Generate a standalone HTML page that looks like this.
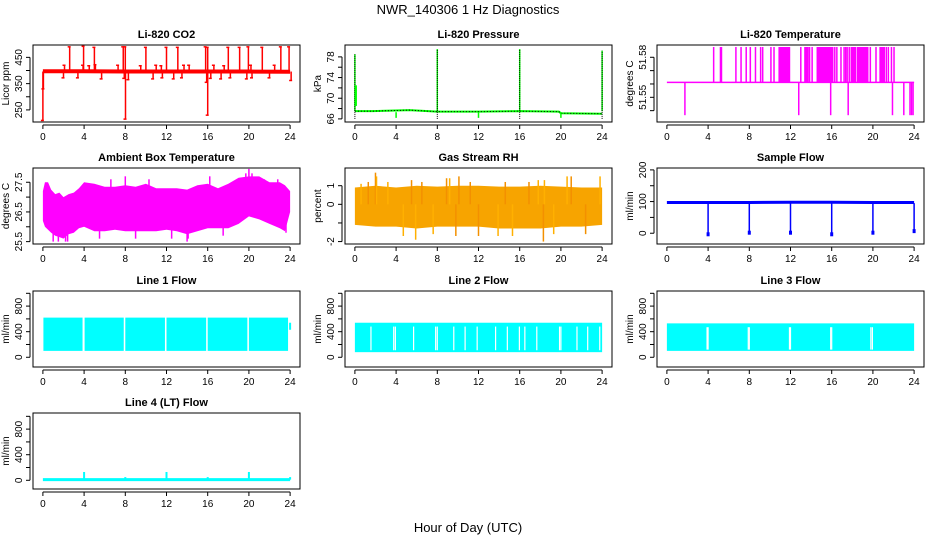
<!DOCTYPE html>
<html><head><meta charset="utf-8"><style>
body{margin:0;background:#fff}
svg{display:block;font-family:"Liberation Sans",Arial,sans-serif}
</style></head><body>
<svg id="chart" width="936" height="540" viewBox="0 0 936 540" xmlns="http://www.w3.org/2000/svg">
<rect width="936" height="540" fill="#fff"/>
<text x="468" y="14" text-anchor="middle" font-size="13">NWR_140306  1 Hz Diagnostics</text>
<text x="468" y="532" text-anchor="middle" font-size="13">Hour of Day (UTC)</text>
</svg>
<script>
// ---- data ----
const xTicks=[0,4,8,12,16,20,24];
const co2Base=[397,397,396,396,396,396,395];
const co2SpikeHours=[2.6,3.95,5.0,7.8,8.0,10.0,12.0,13.1,15.8,16.0,18.0,19.1,19.95,21.3,23.1,23.9,2.1,3.9,4.5,5.1,7.3,9.5,11.0,11.5,13.7,14.2,16.6,17.6,20.2,22.5,2.0,3.4,5.7,7.9,8.3,10.7,11.6,12.7,13.5,16.3,17.3,18.2,19.8,20.3,22.0,24.1,0.0,0.05,8.02,16.0,15.9];
const co2SpikeVals=[490,492,488,490,490,488,488,488,490,488,488,488,490,488,490,490,420,420,418,422,420,418,420,418,420,420,420,418,420,420,372,372,368,370,365,368,372,368,372,370,368,372,368,372,372,362,210,330,215,230,355];
const presHours=[0,1.7,5.3,8,12,16,19.8,20,24];
const presVals=[67.5,67.5,67.7,67.4,67.4,67.5,67.4,67.1,67.0];
const presSpikeHours=[0,8,16,24];
const presSpikeVals=[78.5,79.5,79.5,79.2];
const presDipHours=[4,12,20];
const presDipVals=[66.2,66.2,66.2];
const tempBase=51.5612;
const tempHigh=51.5877;
const tempLow=51.5366;
const tempUpHours=[4.54,5.2,5.3,6.7,7.2,7.7,8.1,8.6,9.1,9.3,10.1,10.4,10.9,11.0,11.1,11.2,11.3,11.4,11.5,11.6,11.7,11.8,11.9,13.0,13.4,13.5,13.6,13.7,13.85,14.1,14.6,14.7,14.8,14.9,15.0,15.1,15.2,15.3,15.4,15.5,15.6,15.7,15.8,15.9,16.0,16.1,16.3,16.5,16.9,17.2,17.35,17.5,17.7,17.9,18.0,18.1,18.2,18.3,18.5,18.6,18.7,18.8,18.9,19.0,19.1,19.2,19.3,19.4,19.5,19.75,20.3,20.7,20.8,20.9,21.0,21.1,21.3,21.5,21.8,22.05];
const tempDownHours=[1.75,12.8,15.9,17.6,21.9,23.0,23.6,23.75,23.9];
const ambHours=[0,0.2,0.5,0.8,1.2,1.6,2,2.5,3,3.5,4,5,6,7,8,9,10,11,12,13,14,15,16,17,18,19,20,20.5,21,22,23,23.5,24];
const ambHi=[27.2,27.5,27.5,27.25,27.1,27.15,27.0,27.1,27.15,27.3,27.5,27.45,27.35,27.35,27.4,27.35,27.45,27.3,27.3,27.3,27.25,27.4,27.45,27.3,27.45,27.65,27.7,27.7,27.7,27.5,27.5,27.4,27.2];
const ambLo=[26.2,26.0,25.9,25.8,25.7,25.65,25.6,25.75,25.8,25.95,26.0,25.85,25.85,25.9,25.85,25.85,25.85,25.85,25.9,25.85,25.75,25.85,25.95,25.95,25.95,26.1,26.35,26.3,26.25,26.1,25.95,25.85,26.5];
const ambSpikeHours=[1.0,1.5,2.2,2.4,5.5,8.0,9.0,12.5,14.0,14.1,16.2,19.7,20.0,20.3,21.5,23.6,6.6,10.3,17.5,22.8];
const ambSpikeVals=[25.5,25.5,25.5,25.5,25.6,27.7,25.6,25.6,25.5,25.6,27.7,27.8,27.95,27.8,27.6,25.8,27.6,27.6,25.7,27.6];
const rhHours=[0,2,4,6,8,10,12,14,16,18,20,22,24];
const rhHi=[0.9,1.0,0.9,1.0,0.95,1.0,1.0,0.95,0.95,1.0,0.95,0.9,0.9];
const rhLo=[-1.1,-1.2,-1.2,-1.3,-1.2,-1.2,-1.2,-1.3,-1.3,-1.3,-1.2,-1.2,-1.1];
const rhSpikeHours=[2.0,2.1,5.5,5.9,8.9,9.2,10.1,18.4,18.3,20.6,21.0,23.8,1.3,4.7,9.8,15.3,12.0,3.2,6.5,7.6,11.2,13.9,16.9,19.3,22.4,0.6,14.6,17.8];
const rhSpikeVals=[1.7,1.5,1.3,-1.9,1.4,1.4,1.5,1.3,-2.0,1.5,1.5,1.5,1.2,-1.7,-1.7,-1.7,-1.7,1.2,1.2,-1.6,1.2,-1.7,1.2,-1.6,-1.6,1.1,1.2,1.3];
const sfBase=[97,97,97,98,98,97,97];
const sfDipHours=[4,8,12,16,20,24];
const sfDipVals=[-5,0,0,-5,0,5];
const l1Starts=[0.05,4.05,8.0,12.0,16.0,20.0];
const l1Ends=[3.85,7.85,11.85,15.85,19.85,23.8];
const l1Lo=100, l1Hi=620;
const l2Gaps=[1.56,3.77,3.93,5.7,7.84,8.0,9.6,10.7,11.87,13.66,14.8,15.97,16.5,17.66,19.87,20.0,21.56,22.6,23.77];
const l2Lo=80, l2Hi=540;
const l3Gaps=[3.9,4.0,7.9,8.0,11.9,12.0,15.9,16.0,19.8,19.95];
const l3Lo=100, l3Hi=530;
const l4SpikeHours=[4,8,12,16,20,24];
const l4SpikeVals=[130,50,130,50,130,50];
const l4Base=10;

// ---- layout ----
const NS="http://www.w3.org/2000/svg";
const svg=document.getElementById('chart');
const cols=[[33,300],[345,612],[657,924]];
const rows=[[45,122],[168,244],[291,367],[413,489]];
function el(tag,attrs,parent){const e=document.createElementNS(NS,tag);for(const k in attrs)e.setAttribute(k,attrs[k]);(parent||svg).appendChild(e);return e;}
function panel(c,r,title,ylab,ydom,yticks,ylabels,name){
  const [x0,x1]=cols[c],[y0,y1]=rows[r];
  const g=el('g',{});
  
  
  const xs=h=>x0+(h+0.96)/25.92*(x1-x0);
  const ys=v=>y1-(v-ydom[0])/(ydom[1]-ydom[0])*(y1-y0);
  const t=el('text',{x:(x0+x1)/2,y:y0-7,'text-anchor':'middle','font-size':'11','font-weight':'bold'},g);
  t.textContent=title;
  
  
  const plot=el('g',{},g);
  
  
  const box=el('rect',{x:x0,y:y0,width:x1-x0,height:y1-y0,fill:'none',stroke:'#000','stroke-width':1},g);
  
  
  const xa=el('g',{},g);
  
  
  el('line',{x1:xs(0),x2:xs(24),y1:y1+3,y2:y1+3,stroke:'#000'},xa);
  xTicks.forEach(h=>{el('line',{x1:xs(h),x2:xs(h),y1:y1+3,y2:y1+7,stroke:'#000'},xa);
    const tl=el('text',{x:xs(h),y:y1+18,'text-anchor':'middle','font-size':'10'},xa);tl.textContent=h;});
  const ya=el('g',{},g);
  
  
  el('line',{x1:x0-3,x2:x0-3,y1:ys(yticks[0]),y2:ys(yticks[yticks.length-1]),stroke:'#000'},ya);
  yticks.forEach(v=>el('line',{x1:x0-3,x2:x0-7,y1:ys(v),y2:ys(v),stroke:'#000'},ya));
  ylabels.forEach(v=>{const tl=el('text',{x:x0-11,y:ys(v),'text-anchor':'middle','font-size':'10',transform:`rotate(-90 ${x0-11} ${ys(v)})`},ya);tl.textContent=v;});
  const yt=el('text',{x:x0-24,y:(y0+y1)/2,'text-anchor':'middle','font-size':'10',transform:`rotate(-90 ${x0-24} ${(y0+y1)/2})`},g);
  yt.textContent=ylab;
  
  
  return {xs,ys,plot};
}
function vline(p,h,a,b,color,w,extra){return el('line',Object.assign({x1:p.xs(h),x2:p.xs(h),y1:p.ys(a),y2:p.ys(b),stroke:color,'stroke-width':w||1},extra||{}),p.plot);}
function band(p,hours,hi,lo,color){
  el('polygon',{points:hours.map((h,i)=>p.xs(h)+','+p.ys(hi[i])).concat(hours.slice().reverse().map((h,j)=>p.xs(h)+','+p.ys(lo[hours.length-1-j]))).join(' '),fill:color},p.plot);
}

// CO2
let p=panel(0,0,'Li-820 CO2','Licor ppm',[204,497],[250,300,350,400,450],[250,350,450],'co2');
co2SpikeHours.forEach((h,i)=>{vline(p,h,396,co2SpikeVals[i],'#f00',1.5);
  el('line',{x1:p.xs(h)-2,x2:p.xs(h)+1,y1:p.ys(co2SpikeVals[i]),y2:p.ys(co2SpikeVals[i]),stroke:'#f00','stroke-width':1.5},p.plot);});
el('polyline',{points:co2Base.map((v,i)=>p.xs(xTicks[i])+','+p.ys(v)).join(' '),fill:'none',stroke:'#f00','stroke-width':4},p.plot);

// Pressure
p=panel(1,0,'Li-820 Pressure','kPa',[65.4,80.3],[66,68,70,72,74,76,78],[66,70,74,78],'pressure');
el('polyline',{points:presHours.map((h,i)=>p.xs(h)+','+p.ys(presVals[i])).join(' '),fill:'none',stroke:'#0f0','stroke-width':2},p.plot);
el('polyline',{points:presHours.map((h,i)=>p.xs(h)+','+p.ys(presVals[i])).join(' '),fill:'none',stroke:'#000','stroke-width':1,'stroke-dasharray':'1,2'},p.plot);
presSpikeHours.forEach((h,i)=>{vline(p,h,presVals[0],presSpikeVals[i],'#0f0',1.5);vline(p,h,66,presSpikeVals[i],'#000',1,{'stroke-dasharray':'1,1'});});
vline(p,0.1,68.5,72.5,'#0f0',2);
presDipHours.forEach((h,i)=>vline(p,h,67.3,presDipVals[i],'#0f0',1.5));

// Temperature
p=panel(2,0,'Li-820 Temperature','degrees C',[51.5315,51.5892],[51.54,51.55,51.56,51.57,51.58],[51.55,51.58],'li820-temp');
tempUpHours.forEach(h=>vline(p,h,tempBase,tempHigh,'#f0f',1.5));
tempDownHours.forEach(h=>vline(p,h,tempBase,tempLow,'#f0f',1.5));
el('line',{x1:p.xs(0),x2:p.xs(24),y1:p.ys(tempBase),y2:p.ys(tempBase),stroke:'#f0f','stroke-width':1.5},p.plot);

// Ambient
p=panel(0,1,'Ambient Box Temperature','degrees C',[25.42,27.98],[25.5,26,26.5,27,27.5],[25.5,26.5,27.5],'ambient-temp');
band(p,ambHours,ambHi,ambLo,'#f0f');
ambSpikeHours.forEach((h,i)=>vline(p,h,26.6,ambSpikeVals[i],'#f0f',1.5));

// RH
p=panel(1,1,'Gas Stream RH','percent',[-2.13,1.95],[-2,-1,0,1],[-2,0,1],'rh');
band(p,rhHours,rhHi,rhLo,'#f7a400');
rhSpikeHours.forEach((h,i)=>vline(p,h,0,rhSpikeVals[i],i%2?'#ffb000':'#f39000',1.5));

// Sample flow
p=panel(2,1,'Sample Flow','ml/min',[-34,206],[0,50,100,150,200],[0,100,200],'sample-flow');
el('polyline',{points:sfBase.map((v,i)=>p.xs(xTicks[i])+','+p.ys(v)).join(' '),fill:'none',stroke:'#00f','stroke-width':3},p.plot);
sfDipHours.forEach((h,i)=>{vline(p,h,95,sfDipVals[i],'#00f',1.5);el('rect',{x:p.xs(h)-1.5,y:p.ys(sfDipVals[i]+8),width:3,height:4,fill:'#00f'},p.plot);});

// Line 1
p=panel(0,2,'Line 1 Flow','ml/min',[-152,1036],[0,200,400,600,800,1000],[0,400,800],'line1-flow');
l1Starts.forEach((s,i)=>el('rect',{x:p.xs(s),y:p.ys(l1Hi),width:p.xs(l1Ends[i])-p.xs(s),height:p.ys(l1Lo)-p.ys(l1Hi),fill:'#0ff'},p.plot));
vline(p,24,430,540,'#0ff',2);

// Line 2
p=panel(1,2,'Line 2 Flow','ml/min',[-152,1036],[0,200,400,600,800,1000],[0,400,800],'line2-flow');
el('rect',{x:p.xs(0),y:p.ys(l2Hi),width:p.xs(24)-p.xs(0),height:p.ys(l2Lo)-p.ys(l2Hi),fill:'#0ff'},p.plot);
l2Gaps.forEach(h=>vline(p,h,l2Lo+30,l2Hi-60,'#fff',1.2));

// Line 3
p=panel(2,2,'Line 3 Flow','ml/min',[-152,1036],[0,200,400,600,800,1000],[0,400,800],'line3-flow');
el('rect',{x:p.xs(0),y:p.ys(l3Hi),width:p.xs(24)-p.xs(0),height:p.ys(l3Lo)-p.ys(l3Hi),fill:'#0ff'},p.plot);
l3Gaps.forEach(h=>vline(p,h,l3Lo+20,l3Hi-60,'#fff',1.2));

// Line 4
p=panel(0,3,'Line 4 (LT) Flow','ml/min',[-136,1052],[0,200,400,600,800,1000],[0,400,800],'line4-flow');
el('line',{x1:p.xs(0),x2:p.xs(24),y1:p.ys(l4Base),y2:p.ys(l4Base),stroke:'#0ff','stroke-width':3},p.plot);
l4SpikeHours.forEach((h,i)=>vline(p,h,l4Base,l4SpikeVals[i],'#0ff',2));
</script>
</body></html>
